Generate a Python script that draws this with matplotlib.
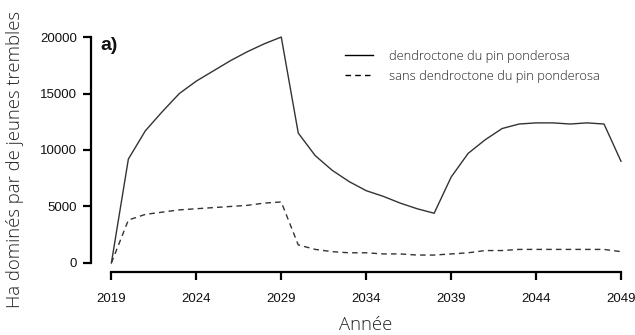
import matplotlib
matplotlib.use("Agg")
import matplotlib.pyplot as plt
from matplotlib.lines import Line2D

years = list(range(2019, 2050))
with_beetle = [0, 9200, 11700, 13400, 15000, 16100, 17000, 17900, 18700, 19400, 20000,
               11500, 9500, 8200, 7200, 6400, 5900, 5300, 4800, 4400,
               7600, 9700, 10900, 11900, 12300, 12400, 12400, 12300, 12400, 12300, 9000]
without_beetle = [0, 3800, 4300, 4500, 4700, 4800, 4900, 5000, 5100, 5300, 5400,
                  1600, 1200, 1000, 900, 900, 800, 800, 700, 700,
                  800, 900, 1100, 1100, 1200, 1200, 1200, 1200, 1200, 1200, 1000]
xticks = [2019, 2024, 2029, 2034, 2039, 2044, 2049]
yticks = [0, 5000, 10000, 15000, 20000]
labels = ["dendroctone du pin ponderosa", "sans dendroctone du pin ponderosa"]

W, H = 635, 335
fig = plt.figure(figsize=(W / 100, H / 100), dpi=100)
x_left_px, x_right_px = 91, 629.5
y_top_px, y_bot_px = 28, 272
ax = fig.add_axes([x_left_px / W, 1 - y_bot_px / H,
                   (x_right_px - x_left_px) / W, (y_bot_px - y_top_px) / H])
ax.set_xlim(2017.8, 2049.5)
ax.set_ylim(-800, 20800)

lc = "#333333"
ax.plot(years, with_beetle, color=lc, lw=1.0, ls="-")
ax.plot(years, without_beetle, color=lc, lw=1.0, ls=(0, (4, 3)))

for s in ["top", "right"]:
    ax.spines[s].set_visible(False)
for s in ["left", "bottom"]:
    ax.spines[s].set_linewidth(1.6)
    ax.spines[s].set_color("black")
ax.spines["left"].set_bounds(0, 20000)
ax.spines["bottom"].set_bounds(2019, 2049)
ax.set_xticks(xticks)
ax.set_yticks(yticks)
ax.tick_params(axis="both", direction="out", length=6, width=1.6, color="black",
               labelsize=9.5, labelcolor="#111111")
ax.tick_params(axis="x", pad=9)
ax.tick_params(axis="y", pad=4)
for t in ax.get_xticklabels() + ax.get_yticklabels():
    t.set_fontfamily("Liberation Sans")

lightfont = dict(family="Open Sans", weight=300)
fig.text(15 / W, 1 - 159 / H, "Ha dominés par de jeunes trembles", rotation=90,
         ha="center", va="center", fontsize=13.3, color="#222222", **lightfont)
fig.text(366 / W, 1 - 325 / H, "Année", ha="center", va="center",
         fontsize=13.3, color="#222222", **lightfont)
ax.text(2018.35, 19250, "a)", ha="left", va="center", fontsize=14,
        fontweight="bold", family="Liberation Sans", color="#111111")

handles = [Line2D([], [], color="black", lw=1.0, ls="-"),
           Line2D([], [], color="black", lw=1.0, ls=(0, (4, 3)))]
leg = ax.legend(handles, labels, loc="upper left", bbox_to_anchor=(0.451, 0.958),
                frameon=False, prop=dict(family="Open Sans", weight=300, size=9.3),
                handlelength=2.1, handletextpad=1.25, labelspacing=0.55,
                labelcolor="#222222")

fig.savefig("out.png", dpi=100)
